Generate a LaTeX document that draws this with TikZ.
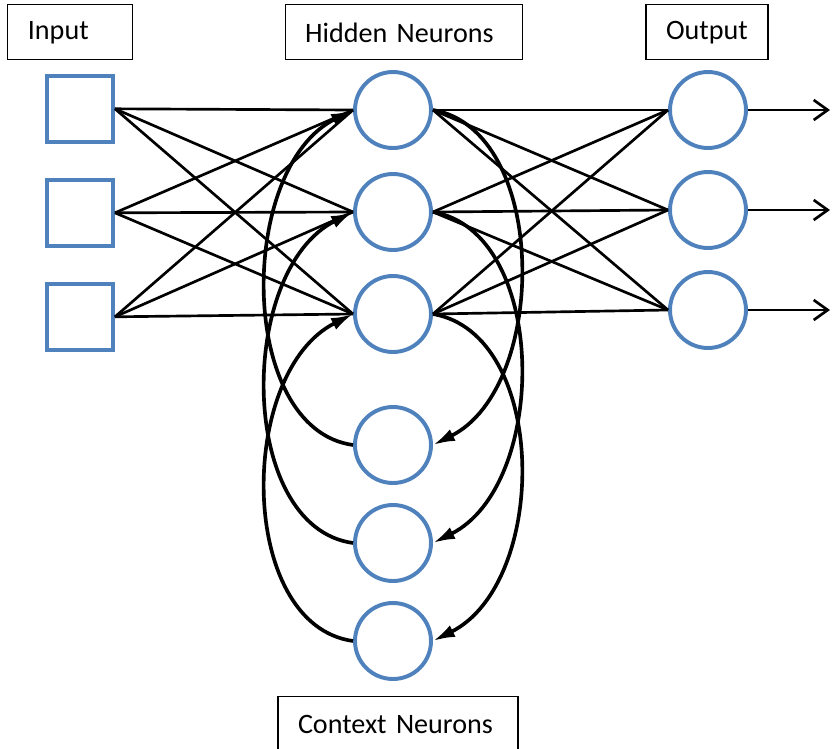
\documentclass[tikz,border=0pt]{standalone}
\usepackage{fontspec}
\setmainfont{Carlito}
\usetikzlibrary{arrows.meta}
\definecolor{nblue}{HTML}{4F81BD}

\begin{document}
\begin{tikzpicture}[sq/.style = {draw=nblue, line width=2.8pt, minimum size=1.65cm},
                    main/.style = {draw=nblue, circle, line width=2.8pt, minimum size=1.9cm},
                    tag/.style = {draw, line width=0.8pt, minimum height=1.375cm, align=left, inner xsep=0.5cm, font=\fontsize{20}{24}\selectfont},
                    ff/.style = {line width=1.9pt},
                    back/.style = {line width=2.6pt, -{Latex[length=0.55cm,width=0.32cm]}},
                    node distance={2.55cm}]
    \useasboundingbox (0,0) rectangle (20.8,-18.725);
    \node[tag, text width=2.125cm] (tin) at (1.76,-0.81) {Input};
    \node[tag, text width=4.925cm] (thid) at (10.09,-0.81) {Hidden Neurons};
    \node[tag, text width=2.05cm] (tout) at (17.675,-0.81) {Output};
    \node[tag, text width=5cm] (tctx) at (9.95,-18.11) {Context Neurons};
    \node[sq] (i1) at (2,-2.72) {};
    \node[sq] (i2) [below of=i1, node distance=2.6cm] {};
    \node[sq] (i3) [below of=i2, node distance=2.6cm] {};
    \node[main] (h1) at (9.825,-2.75) {};
    \node[main] (h2) [below of=h1] {};
    \node[main] (h3) [below of=h2] {};
    \node[main] (o1) at (17.7,-2.75) {};
    \node[main] (o2) [below of=o1, node distance=2.5cm] {};
    \node[main] (o3) [below of=o2, node distance=2.5cm] {};
    \node[main] (c1) at (9.825,-11.125) {};
    \node[main] (c2) [below of=c1, node distance=2.45cm] {};
    \node[main] (c3) [below of=c2, node distance=2.45cm] {};
    \foreach \a in {1,2,3}
        \foreach \b in {1,2,3} {
            \draw[ff] (i\a.east) -- (h\b.west);
            \draw[ff] (h\a.east) -- (o\b.west);
        }
    \foreach \n in {1,2,3} {
        \coordinate[right of=o\n, node distance=3.05cm] (y\n);
        \draw[ff, -{Straight Barb[length=0.35cm,width=0.5cm]}] (o\n.east) -- (y\n);
        % copy back to the context layer and feed it in again
        \draw[back] (h\n.east) .. controls +(2.9,-0.5) and +(2.9,1.45) .. (c\n.east);
        \draw[back] (c\n.west) .. controls +(-2.9,0.4) and +(-2.9,-1.45) .. (h\n.west);
    }
\end{tikzpicture}
\end{document}
